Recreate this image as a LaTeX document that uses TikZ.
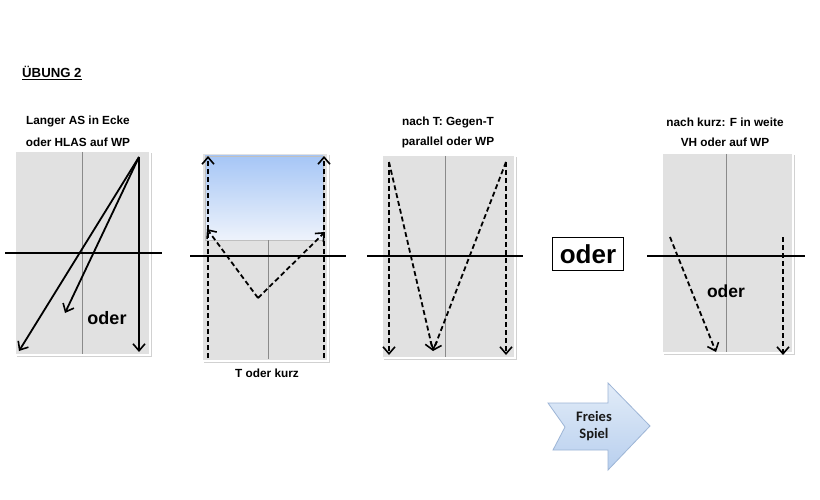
\documentclass[tikz,border=0pt]{standalone}
\usepackage{fontspec}
\setmainfont{Liberation Sans}
\newfontfamily\calib{Carlito}
\usetikzlibrary{arrows.meta}
\definecolor{courtgray}{HTML}{E1E1E1}
\definecolor{midline}{HTML}{8A8A8A}
\definecolor{bluetop}{HTML}{A6C6F6}
\definecolor{bluebot}{HTML}{EEF3FB}
\definecolor{arrtop}{HTML}{E2ECF8}
\definecolor{arrbot}{HTML}{B8CFEE}
\definecolor{arredge}{HTML}{9DB5D6}
\tikzset{
  court/.style={fill=courtgray, draw=white, line width=2pt, inner sep=0pt},
  shade/.style={fill=black!18, draw=none, inner sep=0pt},
  midl/.style={draw=midline, line width=0.6pt},
  netline/.style={draw=black, line width=2pt},
  tipv/.style={-{Straight Barb[length=7pt,width=12pt,line width=1.6pt]}},
  solidarr/.style={tipv, line width=1.8pt},
  dasharr/.style={tipv, line width=1.8pt, dash pattern=on 5pt off 3pt},
  caption/.style={font=\bfseries\fontsize{11.8}{13}\selectfont, inner sep=0pt},
  bigoder/.style={font=\bfseries\fontsize{18}{20}\selectfont, inner sep=0pt}
}
\begin{document}
\begin{tikzpicture}[x=1pt,y=-1pt]
\useasboundingbox[fill=white] (0,0) rectangle (820,500);

% title
\node[anchor=west, inner sep=0pt, font=\bfseries\fontsize{13.2}{15}\selectfont] (title) at (22,73) {\underline{ÜBUNG 2}};

% ---------- court 1 ----------
\node[shade, minimum width=135pt, minimum height=204pt] (s1) at (84,255) {};
\node[court, minimum width=135pt, minimum height=204pt] (c1) at (82.5,253) {};
\draw[midl] (82,152) coordinate (m1t) -- (82,354) coordinate (m1b);
\coordinate (n1l) at (5,253); \coordinate (n1r) at (162,253);
\draw[netline] (n1l) -- (n1r);
\coordinate (p1s) at (139,157);
\coordinate (p1a) at (139,352);
\coordinate (p1b) at (19,351);
\coordinate (p1c) at (65,313);
\draw[solidarr] (p1s) -- (p1a);
\draw[solidarr] (p1s) -- (p1b);
\draw[solidarr] (p1s) -- (p1c);
\node[bigoder] (o1) at (107,318) {oder};
\node[caption] (t1a) at (78,121) {Langer AS in Ecke};
\node[caption] (t1b) at (78,142) {oder HLAS auf WP};

% ---------- court 2 ----------
\node[shade, minimum width=126pt, minimum height=208pt] (s2) at (266.5,259) {};
\node[court, minimum width=126pt, minimum height=208pt] (c2) at (265,257) {};
\node[inner sep=0pt, minimum width=118pt, minimum height=84pt, top color=bluetop, bottom color=bluebot, draw=black!25, line width=0.4pt] (b2) at (264,198) {};
\draw[midl] (b2.south -| 266,0) ++(2,0) coordinate (m2t) -- (268,359) coordinate (m2b);
\coordinate (n2l) at (190,256); \coordinate (n2r) at (346,256);
\draw[netline] (n2l) -- (n2r);
\coordinate (q2lb) at (208,358); \coordinate (q2lt) at (208,156);
\coordinate (q2rb) at (324,358); \coordinate (q2rt) at (324,156);
\coordinate (q2v) at (258,298);
\coordinate (q2l) at (207,229); \coordinate (q2r) at (325,232);
\draw[dasharr] (q2lb) -- (q2lt);
\draw[dasharr] (q2rb) -- (q2rt);
\draw[dasharr] (q2v) -- (q2l);
\draw[dasharr] (q2v) -- (q2r);
\node[caption] (t2) at (267,373) {T oder kurz};

% ---------- court 3 ----------
\node[shade, minimum width=133pt, minimum height=203pt] (s3) at (450,258.5) {};
\node[court, minimum width=133pt, minimum height=203pt] (c3) at (448.5,256.5) {};
\draw[midl] (445,156) coordinate (m3t) -- (445,357) coordinate (m3b);
\coordinate (n3l) at (367,256); \coordinate (n3r) at (523,256);
\draw[netline] (n3l) -- (n3r);
\coordinate (r3l) at (389,162); \coordinate (r3r) at (506,162);
\coordinate (r3lb) at (389,355); \coordinate (r3rb) at (506,355);
\coordinate (r3m) at (433,351);
\draw[dasharr] (r3l) -- (r3lb);
\draw[dasharr] (r3r) -- (r3rb);
\draw[dasharr] (r3l) -- (r3m);
\draw[dasharr] (r3r) -- (r3m);
\node[caption] (t3a) at (448,122) {nach T: Gegen-T};
\node[caption] (t3b) at (448,142) {parallel oder WP};

% ---------- oder box ----------
\node[draw=black, line width=1.2pt, minimum width=71pt, minimum height=33pt, inner sep=0pt, font=\bfseries\fontsize{26}{28}\selectfont] (obox) at (588,254) {oder};

% ---------- court 4 ----------
\node[shade, minimum width=131pt, minimum height=200pt] (s4) at (729,255) {};
\node[court, minimum width=131pt, minimum height=200pt] (c4) at (727.5,253) {};
\draw[midl] (726,154) coordinate (m4t) -- (726,352) coordinate (m4b);
\coordinate (n4l) at (647,256); \coordinate (n4r) at (805,256);
\draw[netline] (n4l) -- (n4r);
\coordinate (u4a) at (670,237); \coordinate (u4ae) at (716,352);
\coordinate (u4b) at (783,237); \coordinate (u4be) at (783,355);
\draw[dasharr] (u4a) -- (u4ae);
\draw[dasharr] (u4b) -- (u4be);
\node[bigoder, font=\bfseries\fontsize{17.5}{20}\selectfont] (o4) at (726,291) {oder};
\node[caption] (t4a) at (725,122) {nach kurz: F in weite};
\node[caption] (t4b) at (725,142) {VH oder auf WP};

% ---------- Freies Spiel arrow ----------
\path[top color=arrtop, bottom color=arrbot, draw=arredge, line width=0.8pt]
  (548,403) coordinate (fa1) -- (608,403) -- (608,383) -- (650,426) coordinate (ftip) -- (608,470) -- (608,450) -- (553,450) -- (565,427) -- cycle;
\node[align=center, inner sep=0pt, font=\calib\bfseries\fontsize{14.5}{17}\selectfont, text=black!90] (fs) at (594,426) {Freies\\Spiel};

\end{tikzpicture}
\end{document}
